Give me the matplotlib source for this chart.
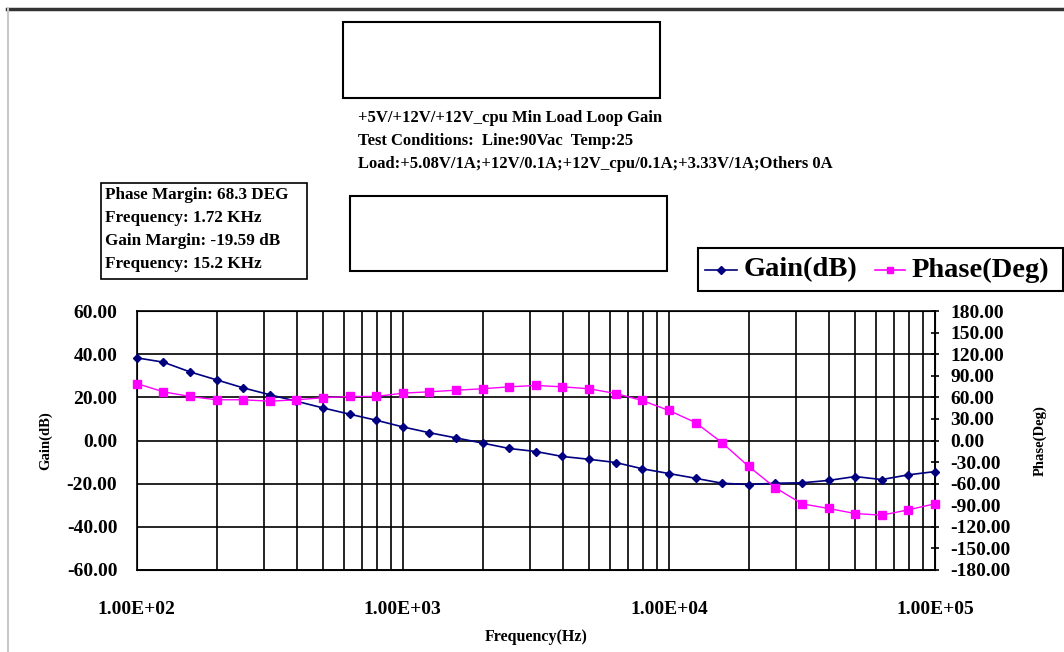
import numpy as np
import matplotlib
matplotlib.use("Agg")
import matplotlib.pyplot as plt
from matplotlib.patches import Rectangle
from matplotlib.lines import Line2D

# 10 points per decade, 100 Hz .. 100 kHz
freq_exp = [2 + k / 10 for k in range(31)]
gain_db = [38.3, 36.3, 31.8, 28.1, 24.4, 21.2, 18.2, 15.1, 12.2, 9.4, 6.3,
           3.6, 1.2, -1.2, -3.7, -5.1, -7.4, -8.7, -10.2, -13.1, -15.3,
           -17.5, -19.8, -20.4, -19.8, -19.6, -18.5, -16.7, -18.1, -15.9, -14.4]
phase_deg = [79.2, 67.7, 61.2, 56.6, 56.6, 54.6, 56.6, 59.4, 61.2, 61.2, 65.8,
             67.7, 69.9, 71.9, 74.6, 76.5, 74.6, 71.9, 65.3, 55.6, 41.7,
             25.0, -3.2, -36.1, -65.7, -88.0, -94.5, -101.5, -103.8, -96.3, -88.0]

title_lines = ["+5V/+12V/+12V_cpu Min Load Loop Gain",
               "Test Conditions:  Line:90Vac  Temp:25",
               "Load:+5.08V/1A;+12V/0.1A;+12V_cpu/0.1A;+3.33V/1A;Others 0A"]
margin_lines = ["Phase Margin: 68.3 DEG", "Frequency: 1.72 KHz",
                "Gain Margin: -19.59 dB", "Frequency: 15.2 KHz"]
gain_ticks = [60, 40, 20, 0, -20, -40, -60]
phase_ticks = list(range(180, -181, -30))
x_ticks = [1e2, 1e3, 1e4, 1e5]

plt.rcParams['font.family'] = ['Liberation Serif', 'DejaVu Serif']
plt.rcParams['font.weight'] = 'bold'
plt.rcParams['axes.labelweight'] = 'bold'

W, H = 1064, 652
fig = plt.figure(figsize=(W / 100, H / 100), dpi=100)


def fx(x):
    return x / W


def fy(y):
    return 1 - y / H


freq = [10 ** e for e in freq_exp]

ax = fig.add_axes([fx(136.7), fy(570), fx(935) - fx(136.7), fy(311) - fy(570)])
ax.set_xscale('log')
ax.set_xlim(1e2, 1e5)
ax.set_ylim(-60, 60)
ax.grid(True, which='both', axis='x', color='black', linewidth=1.2)
ax.grid(True, which='major', axis='y', color='black', linewidth=1.2)
ax.set_yticks(gain_ticks)
ax.set_yticklabels(['%.2f' % v for v in gain_ticks])
ax.set_xticks(x_ticks)
ax.set_xticklabels(['1.00E+02', '1.00E+03', '1.00E+04', '1.00E+05'])
ax.tick_params(axis='both', which='both', length=0, labelsize=14, pad=22)
ax.tick_params(axis='y', pad=14)
for s in ax.spines.values():
    s.set_linewidth(1.2)

ax.plot(freq, gain_db, '-D', color='#000080', markersize=4.5, linewidth=1.2,
        zorder=4, clip_on=False)
ax.set_ylabel('Gain(dB)', fontsize=10.5, labelpad=10)
ax.set_xlabel('Frequency(Hz)', fontsize=11.5, labelpad=8)

ax2 = ax.twinx()
ax2.set_ylim(-180, 180)
ax2.set_yticks(phase_ticks)
ax2.set_yticklabels(['%.2f' % v for v in phase_ticks])
ax2.tick_params(axis='y', length=6, width=1.2, direction='inout', labelsize=14, pad=8)
ax2.plot(freq, phase_deg, '-s', color='#FF00FF', markersize=5.5, linewidth=1.0,
         zorder=3, clip_on=False)
ax2.set_ylabel('Phase(Deg)', fontsize=10.5, labelpad=16)
ax2.set_zorder(ax.get_zorder() + 1)
ax2.patch.set_visible(False)

# outer frame
fig.add_artist(Line2D([fx(7), 1], [fy(8.5), fy(8.5)], color='#333333', linewidth=2.5))
fig.add_artist(Line2D([fx(7.5), fx(7.5)], [fy(9), 0], color='#c8c8c8', linewidth=1.5))

# header text
for i, line in enumerate(title_lines):
    fig.text(fx(358), fy(118 + 23 * i), line, fontsize=12, va='center', ha='left')

# blank boxes
for (x0, y0, x1, y1) in [(343, 22, 660, 98), (350, 196, 667, 271)]:
    fig.add_artist(Rectangle((fx(x0), fy(y1)), fx(x1) - fx(x0), fy(y0) - fy(y1),
                             facecolor='white', edgecolor='black', linewidth=1.5))

# margin box
fig.add_artist(Rectangle((fx(101), fy(279)), fx(307) - fx(101), fy(183) - fy(279),
                         facecolor='white', edgecolor='black', linewidth=1.2))
for i, line in enumerate(margin_lines):
    fig.text(fx(105), fy(195 + 23 * i), line, fontsize=12.3, va='center', ha='left')

# legend
fig.add_artist(Rectangle((fx(698), fy(291)), fx(1063) - fx(698), fy(248) - fy(291),
                         facecolor='white', edgecolor='black', linewidth=1.5))
fig.add_artist(Line2D([fx(705), fx(721), fx(737)], [fy(270)] * 3, color='#000080',
                      linewidth=1.2, marker='D', markersize=4, markevery=[1]))
fig.text(fx(744), fy(270), 'Gain(dB)', fontsize=20.5, va='center', ha='left')
fig.add_artist(Line2D([fx(875), fx(890), fx(905)], [fy(270)] * 3, color='#FF00FF',
                      linewidth=1.2, marker='s', markersize=5, markevery=[1]))
fig.text(fx(912), fy(270), 'Phase(Deg)', fontsize=20.5, va='center', ha='left')

fig.savefig('out.png', dpi=100)
